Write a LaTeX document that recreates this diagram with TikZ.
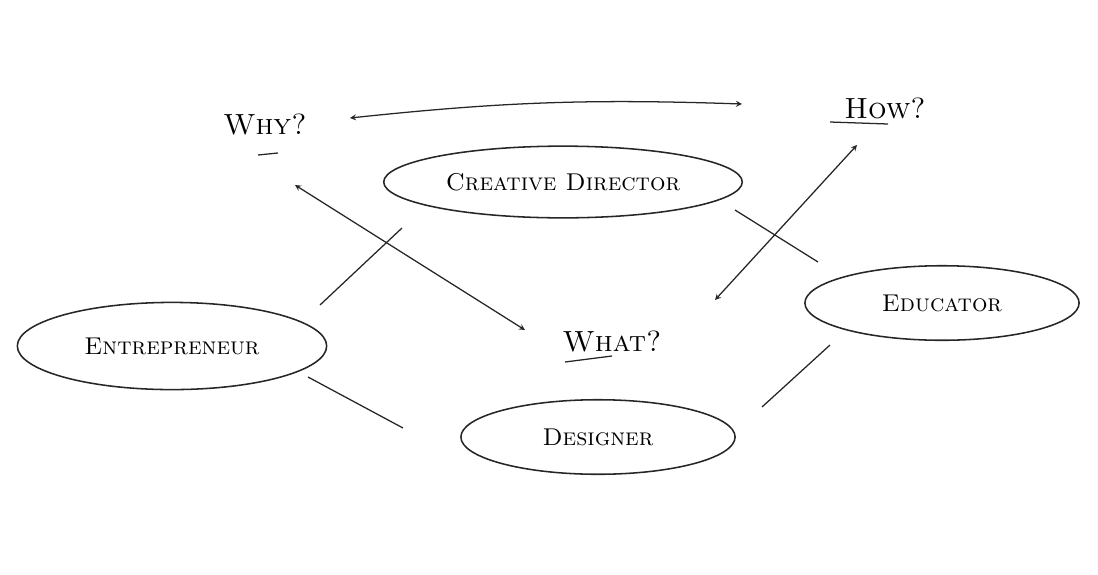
\documentclass[tikz,border=0pt]{standalone}
\usepackage{tikz}
\usetikzlibrary{positioning,calc,arrows,shapes.geometric}
\tikzset{role/.style={ellipse, draw=black!85, line width=1.1pt, font=\LARGE\scshape, inner sep=0pt}}
\tikzset{ask/.style={font=\huge\scshape}}
\tikzset{arr2/.style={draw=black!85, <->, >=stealth, line width=0.9pt}}
\tikzset{link/.style={draw=black!85, line width=0.9pt}}
\begin{document}
\begin{tikzpicture}[x=0.025cm,y=-0.025cm]
	\useasboundingbox (0,0) rectangle (1098,574);
	\node[role, minimum width=255pt, minimum height=51pt] (cd) at (563,182) {Creative Director};
	\node[role, minimum width=220pt, minimum height=62pt] (ent) at (172,346) {Entrepreneur};
	\node[role, minimum width=195pt, minimum height=53pt] (edu) at (942,303) {Educator};
	\node[role, minimum width=195pt, minimum height=53pt] (des) at (598,437) {Designer};
	%
	\node[ask] (why) at (265,125) {Why?};
	\node[ask] (how) at (885,108) {How?};
	\node[ask] (what) at (612,342) {What?};
	%
	\coordinate (whyl) at (258,155);
	\draw[link] (whyl) -- +(20,-2);
	\draw[link] (830,122) -- (888,124);
	\draw[link] (565,362) -- (612,356);
	%
	\draw[arr2] (350,118) to[bend left=4] (742,104);
	\draw[arr2] (295,185) -- (525,330);
	\draw[arr2] (857,145) -- (715,300);
	%
	\draw[link] (320,305) -- (402,228);
	\draw[link] (735,210) -- (818,262);
	\draw[link] (308,377) -- (403,428);
	\draw[link] (762,407) -- (830,345);
\end{tikzpicture}
\end{document}
